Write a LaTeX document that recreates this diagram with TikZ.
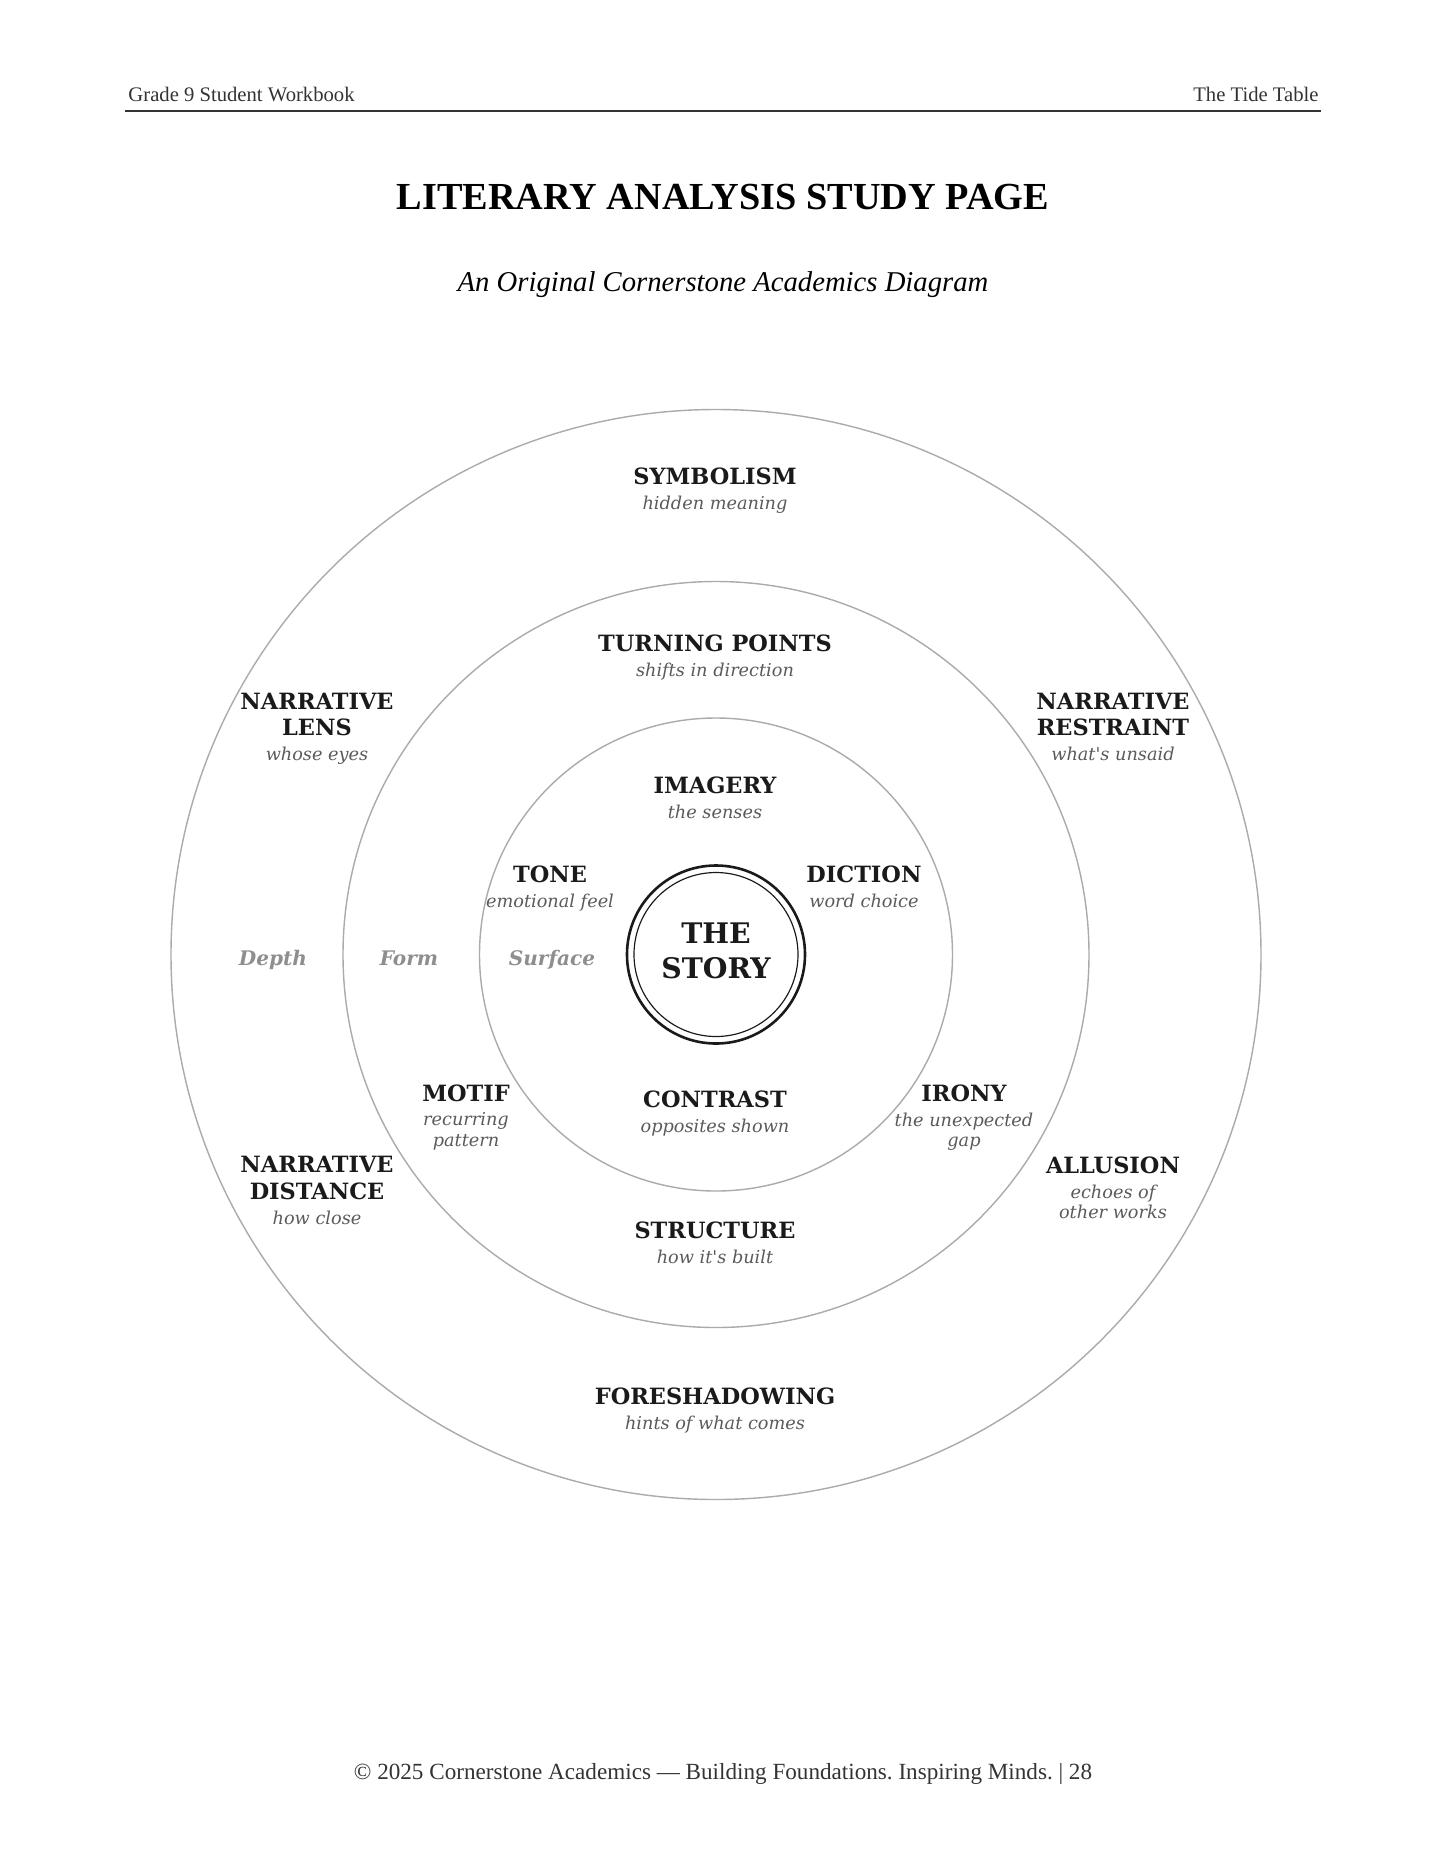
\documentclass[tikz,border=0pt]{standalone}
\usepackage{fontspec}
\setmainfont{DejaVu Serif}
\newfontfamily\pagefont{Liberation Serif}
\usetikzlibrary{positioning}
\definecolor{inkBlack}{HTML}{1A1A1A}
\definecolor{subGray}{HTML}{5A5A5A}
\definecolor{ringGray}{HTML}{ABABAB}
\definecolor{layerGray}{HTML}{8E8E8E}
\definecolor{pageGray}{HTML}{333333}
\frenchspacing

\begin{document}
\begin{tikzpicture}[x=0.42354pt,y=-0.42354pt,
  head/.style={text=inkBlack,font=\bfseries\fontsize{9.5}{11.4}\selectfont,align=center,inner sep=0pt},
  sub/.style={text=subGray,font=\itshape\fontsize{7.5}{8.8}\selectfont,align=center,inner sep=0pt,below=4.3pt of #1},
  layer/.style={text=layerGray,font=\bfseries\itshape\fontsize{8.5}{10}\selectfont,inner sep=0pt,anchor=base},
  ring/.style={draw=ringGray,line width=0.6pt},
  pagetext/.style={text=pageGray,font=\pagefont\fontsize{8.75}{10}\selectfont,inner sep=0pt}]
  \useasboundingbox (0,0) rectangle (1445,1870);
  \def\cx{716}
  \def\cy{954.5}
  \node[pagetext,anchor=base west] (hdleft) at (128,101) {Grade 9 Student Workbook};
  \node[pagetext,anchor=base east] (hdright) at (1319,101) {The Tide Table};
  \draw[pageGray,line width=0.6pt] (125,111) -- (1321,111);
  \node[inner sep=0pt,font=\pagefont\bfseries\fontsize{16.2}{18}\selectfont] (title) at (723,197) {LITERARY ANALYSIS STUDY PAGE};
  \node[inner sep=0pt,font=\pagefont\itshape\fontsize{12.15}{14}\selectfont] (subtitle) at (723,285) {An Original Cornerstone Academics Diagram};
  \foreach \r in {545,373,236.5}{
    \draw[ring] (\cx,\cy) circle[radius=\r];
  }
  \node[circle,draw=inkBlack,line width=1.1pt,minimum size=75.4pt,inner sep=0pt] (story) at (\cx,\cy) {};
  \draw[inkBlack,line width=0.5pt] (story.center) circle[radius=82];
  \node[head,font=\bfseries\fontsize{12}{14.8}\selectfont] (storytext) at (\cx,950.5) {THE\\STORY};
  \node[head] (symb) at (715,476) {SYMBOLISM};
  \node[sub=symb] (symbsub) {hidden meaning};
  \node[head] (turn) at (715,643) {TURNING POINTS};
  \node[sub=turn] (turnsub) {shifts in direction};
  \node[head] (imag) at (715,785) {IMAGERY};
  \node[sub=imag] (imagsub) {the senses};
  \node[head] (tone) at (550,874) {TONE};
  \node[sub=tone] (tonesub) {emotional feel};
  \node[head] (dict) at (864,874) {DICTION};
  \node[sub=dict] (dictsub) {word choice};
  \node[head] (lens) at (317,714.5) {NARRATIVE\\LENS};
  \node[sub=lens] (lenssub) {whose eyes};
  \node[head] (restr) at (1113,714.5) {NARRATIVE\\RESTRAINT};
  \node[sub=restr] (restrsub) {what\textquotesingle s unsaid};
  \node[layer] (depth) at (273,965) {Depth};
  \node[layer] (form) at (409,965) {Form};
  \node[layer] (surf) at (552,965) {Surface};
  \node[head] (motif) at (466,1093) {MOTIF};
  \node[sub=motif] (motifsub) {recurring\\pattern};
  \node[head] (contr) at (715,1099) {CONTRAST};
  \node[sub=contr] (contrsub) {opposites shown};
  \node[head] (irony) at (964,1093) {IRONY};
  \node[sub=irony] (ironysub) {the unexpected\\gap};
  \node[head] (dist) at (317,1178) {NARRATIVE\\DISTANCE};
  \node[sub=dist] (distsub) {how close};
  \node[head] (allus) at (1113,1165) {ALLUSION};
  \node[sub=allus] (allussub) {echoes of\\other works};
  \node[head] (struct) at (715,1230) {STRUCTURE};
  \node[sub=struct] (structsub) {how it\textquotesingle s built};
  \node[head] (fore) at (715,1396) {FORESHADOWING};
  \node[sub=fore] (foresub) {hints of what comes};
  \node[pagetext,font=\pagefont\fontsize{9.8}{12}\selectfont,anchor=base] (footer) at (723,1779) {© 2025 Cornerstone Academics — Building Foundations. Inspiring Minds. | 28};
\end{tikzpicture}
\end{document}
